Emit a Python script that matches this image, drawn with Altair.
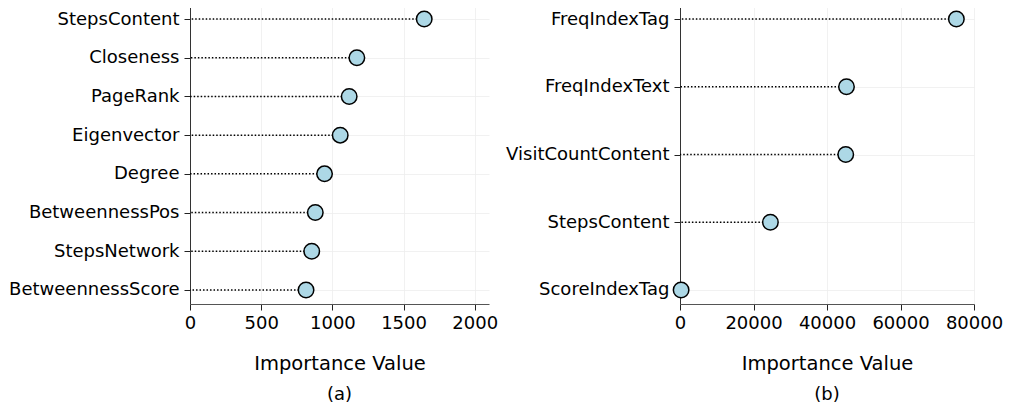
import altair as alt
import pandas as pd

left_features = ["StepsContent", "Closeness", "PageRank", "Eigenvector", "Degree",
                 "BetweennessPos", "StepsNetwork", "BetweennessScore"]
left_values = [1645, 1172, 1118, 1055, 945, 880, 855, 815]
left_ticks = [0, 500, 1000, 1500, 2000]

right_features = ["FreqIndexTag", "FreqIndexText", "VisitCountContent", "StepsContent", "ScoreIndexTag"]
right_values = [75200, 45300, 45100, 24600, 300]
right_ticks = [0, 20000, 40000, 60000, 80000]

FONT = "DejaVu Sans"
TICK_FS = 18
TITLE_FS = 19.5


def panel(features, values, domain_max, ticks, pad, caption, width, height):
    df = pd.DataFrame({"feature": features, "value": values})
    y = alt.Y("feature:N", sort=features,
              scale=alt.Scale(type="point", padding=pad),
              axis=alt.Axis(title=None, grid=True, gridColor="#eeeeee", gridWidth=0.8,
                            tickSize=6, labelPadding=5, domainColor="#333", tickColor="#222",
                            labelFontSize=TICK_FS, labelColor="black"))
    x = alt.X("value:Q",
              scale=alt.Scale(domain=[0, domain_max], nice=False, zero=True),
              axis=alt.Axis(title="Importance Value", values=ticks, format="d",
                            labelFlush=False, labelOverlap=False, grid=True,
                            gridColor="#eeeeee", gridWidth=0.8, tickSize=6,
                            labelPadding=4, titlePadding=22, domainColor="#555",
                            tickColor="#222", labelFontSize=TICK_FS, labelColor="black",
                            titleFontSize=TITLE_FS, titleFontWeight="normal",
                            titleColor="black"))
    base = alt.Chart(df)
    rules = base.mark_rule(color="black", strokeWidth=1.5, strokeDash=[1.5, 2]).encode(
        y=y, x=x, x2=alt.datum(0))
    points = base.mark_point(shape="circle", filled=True, fill="#ADD8E6", stroke="black",
                             strokeWidth=1.5, size=240, opacity=1).encode(y=y, x=x)
    return alt.layer(rules, points).properties(
        width=width, height=height,
        title=alt.TitleParams(caption, orient="bottom", anchor="middle", fontSize=TICK_FS,
                              fontWeight="normal", font=FONT, offset=13, color="black"))


left = panel(left_features, left_values, 2100, left_ticks, 0.362, "(a)", 299, 299)
right = panel(right_features, right_values, 80000, right_ticks, 0.207, "(b)", 294, 299)

chart = alt.hconcat(left, right, spacing=7).properties(
    padding={"left": 0, "top": -3, "right": 0, "bottom": 0}, background="white"
).configure_view(stroke=None).configure_axis(labelFont=FONT, titleFont=FONT)

chart.save("out.html", embed_options={"renderer": "svg", "actions": False})
